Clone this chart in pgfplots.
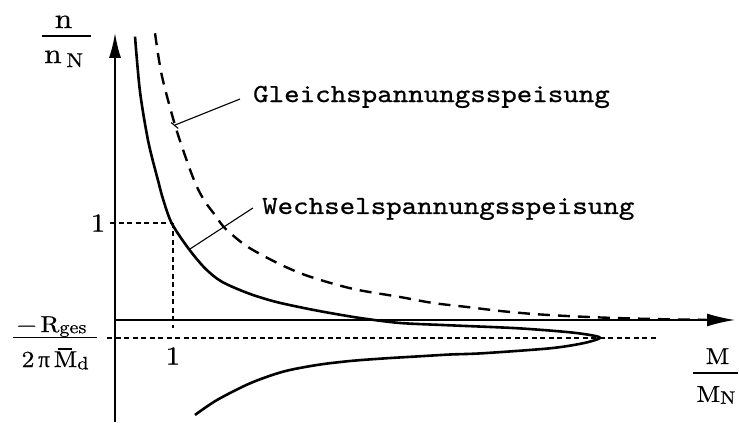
\documentclass[border=0pt]{standalone}
\usepackage{fontspec}
\usepackage{graphicx}
\usepackage{pgfplots}
\pgfplotsset{compat=1.18}
\usetikzlibrary{arrows.meta}
\newfontfamily\annfont[FakeStretch=1.136, FakeBold=0.8]{lmmono10-regular.otf}
\newfontfamily\lblfont[FakeStretch=1.12, FakeBold=0.6]{lmroman10-regular.otf}
\newfontfamily\grkfont[FakeBold=0.4]{Liberation Serif}
\newcommand{\lb}{\lblfont\fontsize{23}{26}\selectfont}
\newcommand{\lbn}{\lblfont\fontsize{28}{30}\selectfont}
\newcommand{\sub}[2][0.15em]{\raisebox{-#1}{\fontsize{18}{18}\selectfont #2}}
\newcommand{\Mbar}{\makebox[0pt][l]{\hspace{0.17em}\raisebox{0.76em}{\rule{0.62em}{1.2pt}}}M}

\begin{document}
\begin{tikzpicture}
\begin{axis}[
  x=58pt, y=97pt,
  xmin=-1.983, xmax=10.759,
  ymin=-1.041, ymax=3.299,
  axis lines=none,
  clip=false,
]
% page frame
\path (axis cs:-1.983,-1.041) rectangle (axis cs:10.759,3.299);

% axes with arrow heads
\addplot[line width=1.8pt, -{Latex[length=25pt,width=12pt]}]
  coordinates {(0,-1.05) (0,2.96)};
\addplot[line width=1.6pt, -{Latex[length=28pt,width=13pt]}]
  coordinates {(0,0) (10.69,0)};

% asymptote of the AC branch
\addplot[line width=1.2pt, dash pattern=on 5pt off 3.5pt]
  coordinates {(-0.138,-0.186) (9.345,-0.186)};

% rated point guides
\addplot[line width=1.2pt, dash pattern=on 5pt off 3.5pt]
  coordinates {(-0.086,1) (1,1)};
\addplot[line width=1.2pt, dash pattern=on 5pt off 3.5pt]
  coordinates {(1,1) (1,-0.082)};

% DC supply
\addplot[line width=2.4pt, dash pattern=on 12pt off 8pt, smooth]
  coordinates {
  (0.690,2.956) (0.805,2.526) (1.034,2.010) (1.264,1.598) (1.414,1.371)
  (1.552,1.220) (1.724,1.082) (1.897,0.945) (2.241,0.773) (2.586,0.653)
  (2.931,0.550) (3.276,0.464) (3.736,0.378) (4.195,0.309) (4.914,0.237)
  (5.483,0.175) (6.069,0.134) (6.638,0.093) (7.207,0.062) (7.793,0.041)
  (8.362,0.026) (8.931,0.015) (9.517,0.007) (10.2,0.002)};

% AC supply (upper branch, nose and lower branch)
\addplot[line width=2.6pt, smooth]
  coordinates {
  (0.345,2.921) (0.431,2.354) (0.574,1.838) (0.747,1.426) (0.833,1.237)
  (0.978,0.997) (1.264,0.739) (1.552,0.533) (1.840,0.395) (2.298,0.275)
  (2.759,0.189) (3.276,0.121) (3.736,0.069) (4.253,0.018) (4.914,-0.031)
  (5.776,-0.055) (6.931,-0.085) (7.793,-0.124) (8.190,-0.155) (8.362,-0.186)
  (8.069,-0.240) (7.500,-0.292) (6.345,-0.343) (5.776,-0.356) (5.207,-0.376)
  (4.621,-0.397) (4.052,-0.423) (3.483,-0.464) (2.897,-0.533) (2.328,-0.653)
  (1.759,-0.825) (1.379,-0.979)};

% leader lines
\addplot[line width=1.1pt] coordinates {(1.034,2.010) (2.155,2.278)};
\addplot[line width=1.1pt] coordinates {(0.968,2.035) (1.090,1.975)};
\addplot[line width=1.1pt] coordinates {(1.293,0.732) (2.379,1.155)};

% annotations
\node[anchor=base west, inner sep=0pt, font=\annfont\fontsize{26}{28}\selectfont]
  at (axis cs:2.379,2.247) {Gleichspannungsspeisung};
\node[anchor=base west, inner sep=0pt, font=\annfont\fontsize{26}{28}\selectfont]
  at (axis cs:2.534,1.093) {Wechselspannungsspeisung};

% ordinate label n/n_N
\node[anchor=base, inner sep=0pt, font=\lbn] at (axis cs:-0.888,3.010) {n};
\draw[line width=1.3pt] (axis cs:-1.259,2.928) -- (axis cs:-0.414,2.928);
\node[anchor=base, inner sep=0pt, font=\lbn] at (axis cs:-0.885,2.649)
  {n\,{\fontsize{20}{20}\selectfont\raisebox{-0.2em}{N}}};

% abscissa label M/M_N
\node[anchor=base, inner sep=0pt, font=\lb] at (axis cs:10.388,-0.454) {M};
\draw[line width=1.3pt] (axis cs:9.966,-0.546) -- (axis cs:10.741,-0.546);
\node[anchor=base, inner sep=0pt, font=\lb] at (axis cs:10.362,-0.845) {M\sub[0.08em]{N}};

% asymptote label -R_ges/(2 pi Md)
\node[anchor=base, inner sep=0pt, font=\lb] at (axis cs:-1.095,-0.124) {−\,R\sub[0.05em]{ges}};
\draw[line width=1.3pt] (axis cs:-1.759,-0.180) -- (axis cs:-0.310,-0.180);
\node[anchor=base, inner sep=0pt, font=\lb] at (axis cs:-1.034,-0.485)
  {2\,{\grkfont π}\,\Mbar\sub[0.1em]{d}};

% tick labels
\node[inner sep=0pt, font=\lblfont\fontsize{26}{28}\selectfont] at (axis cs:-0.293,1) {1};
\node[inner sep=0pt, font=\lblfont\fontsize{26}{28}\selectfont] at (axis cs:1,-0.371) {1};
\end{axis}
\end{tikzpicture}
\end{document}
